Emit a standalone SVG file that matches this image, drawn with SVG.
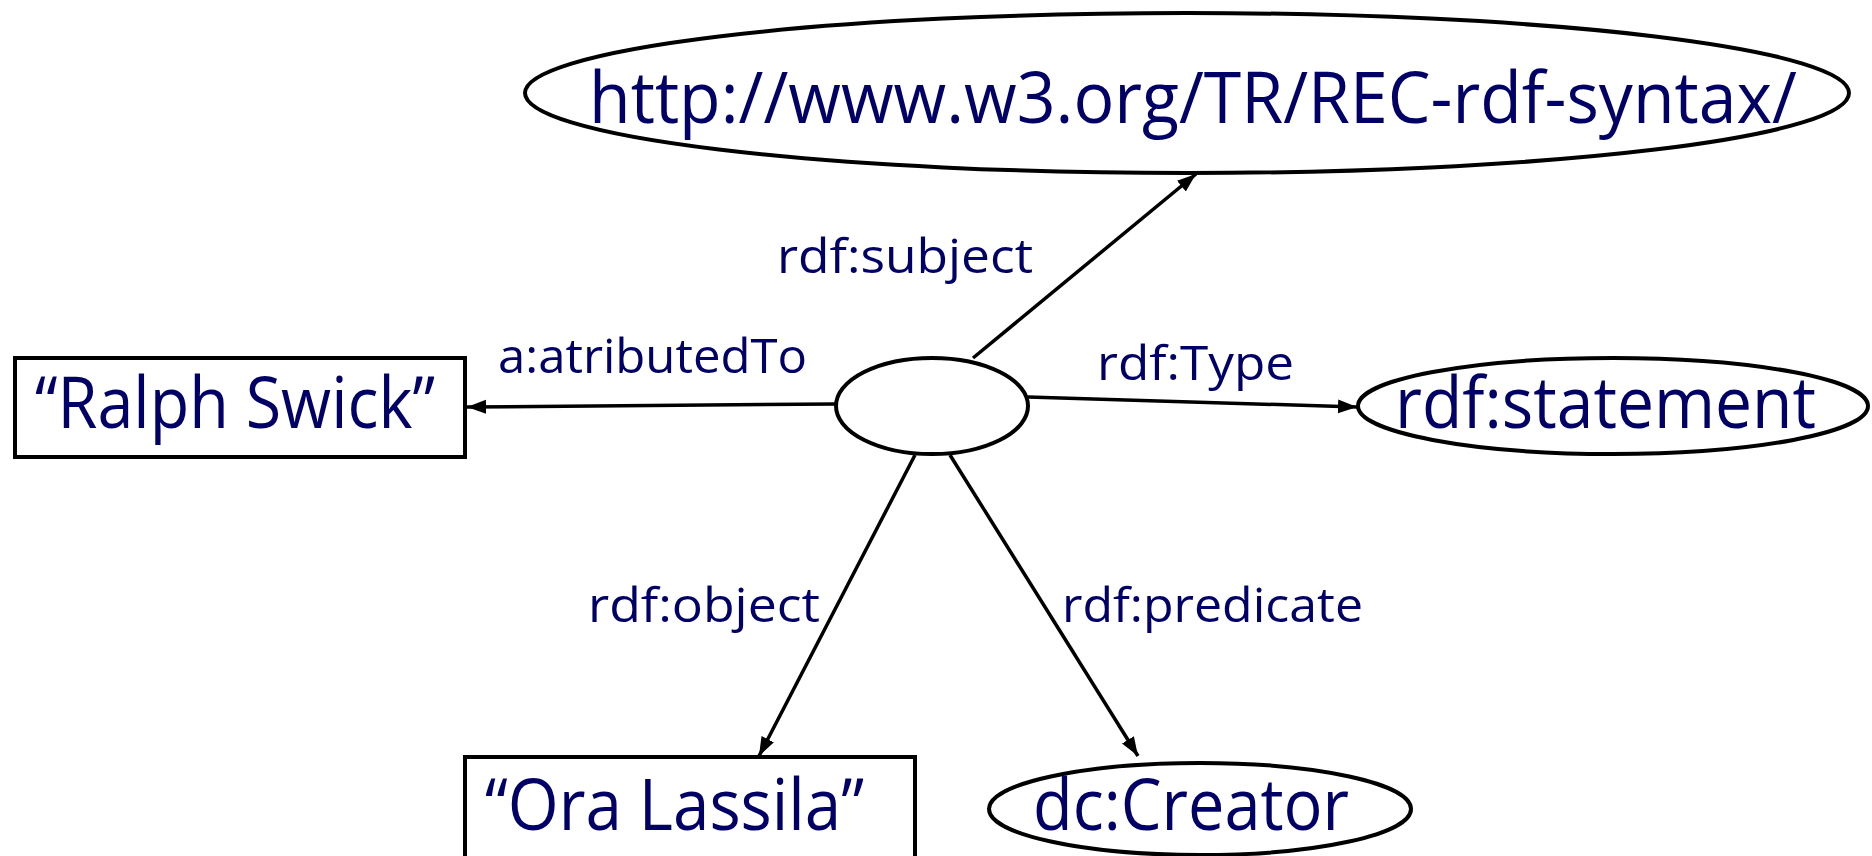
<svg xmlns="http://www.w3.org/2000/svg" width="1872" height="856" viewBox="0 0 1872 856">
  <style>
    .shape { fill: #ffffff; stroke: #000000; stroke-width: 4; }
    .edge { fill: none; stroke: #000000; stroke-width: 3.5; marker-end: url(#arrow); }
    .big { font-family: "Open Sans", "DejaVu Sans", sans-serif; font-size: 72px; fill: #000066; }
    .lbl { font-family: "Open Sans", "DejaVu Sans", sans-serif; font-size: 47px; fill: #000066; }
  </style>
  <defs>
    <marker id="arrow" markerUnits="userSpaceOnUse" markerWidth="20" markerHeight="16" refX="19" refY="7" orient="auto">
      <path d="M0,0 L19,7 L0,14 Z" fill="#000000"/>
    </marker>
  </defs>
  <rect width="1872" height="856" fill="#ffffff"/>

  <!-- connectors -->
  <g id="connectors">
    <path class="edge" d="M836,404 L467,407"/>
    <path class="edge" d="M1028,397 L1357,407"/>
    <path class="edge" d="M973,358 L1196,174"/>
    <path class="edge" d="M915,455 L759,756"/>
    <path class="edge" d="M950,455 L1138,756"/>
    <text class="lbl" x="498" y="373" textLength="309" lengthAdjust="spacingAndGlyphs">a:atributedTo</text>
    <text class="lbl" x="1097" y="380" textLength="197" lengthAdjust="spacingAndGlyphs">rdf:Type</text>
    <text class="lbl" x="777" y="273" textLength="256" lengthAdjust="spacingAndGlyphs">rdf:subject</text>
    <text class="lbl" x="588" y="622" textLength="232" lengthAdjust="spacingAndGlyphs">rdf:object</text>
    <text class="lbl" x="1062" y="622" textLength="301" lengthAdjust="spacingAndGlyphs">rdf:predicate</text>
  </g>

  <!-- the reified statement (blank node) -->
  <g id="statement">
    <ellipse class="shape" cx="932" cy="406" rx="96" ry="48"/>
  </g>

  <g id="subject">
    <ellipse class="shape" cx="1187" cy="93" rx="662" ry="80"/>
    <text class="big" x="589" y="123" textLength="1208" lengthAdjust="spacingAndGlyphs">http://www.w3.org/TR/REC-rdf-syntax/</text>
  </g>

  <g id="ralph">
    <rect class="shape" x="15" y="358" width="450" height="99"/>
    <text class="big" x="35" y="428" textLength="400" lengthAdjust="spacingAndGlyphs">“Ralph Swick”</text>
  </g>

  <g id="type">
    <ellipse class="shape" cx="1613" cy="406" rx="255" ry="48"/>
    <text class="big" x="1395" y="428" textLength="421" lengthAdjust="spacingAndGlyphs">rdf:statement</text>
  </g>

  <g id="ora">
    <rect class="shape" x="465" y="757" width="450" height="120"/>
    <text class="big" x="485" y="830" textLength="379" lengthAdjust="spacingAndGlyphs">“Ora Lassila”</text>
  </g>

  <g id="creator">
    <ellipse class="shape" cx="1200" cy="809" rx="211" ry="46"/>
    <text class="big" x="1033" y="830" textLength="316" lengthAdjust="spacingAndGlyphs">dc:Creator</text>
  </g>
</svg>
